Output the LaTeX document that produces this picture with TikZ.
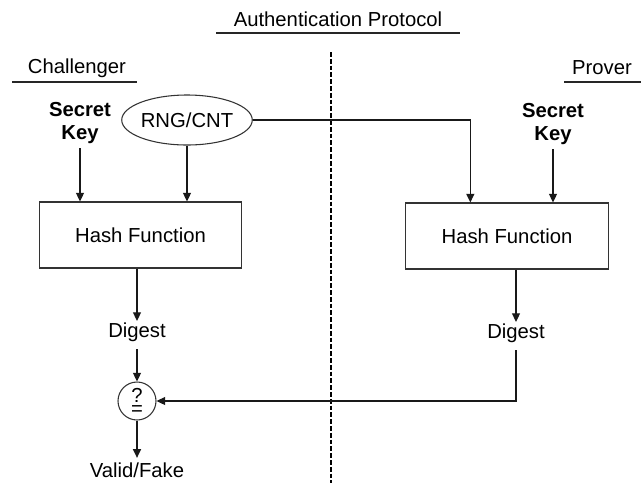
\documentclass[tikz,border=0pt]{standalone}
\usepackage{fontspec}
\setmainfont{Liberation Sans}
\usetikzlibrary{arrows.meta,shapes.geometric,calc}
\begin{document}
\begin{tikzpicture}[x=0.75pt,y=-0.75pt,
  font=\fontsize{15.2pt}{17.3pt}\selectfont,
  conn/.style={draw=black!90, line width=0.95pt},
  arr/.style={conn, -{Triangle[length=6.5pt,width=6pt]}},
  uline/.style={draw=black!85, line width=1.1pt},
  hbox/.style={draw=black!80, line width=0.8pt, minimum width=152pt, minimum height=49.5pt, inner sep=0pt},
  ell/.style={ellipse, draw=black!80, line width=0.8pt, minimum width=87pt, minimum height=37.5pt, inner sep=0pt},
  circ/.style={circle, draw=black!80, line width=0.8pt, minimum size=28.5pt, inner sep=0pt},
  keytxt/.style={font=\fontsize{15.2pt}{17.3pt}\selectfont\bfseries, align=center},
  lbl/.style={inner sep=1pt},
  sym/.style={inner sep=0pt, align=center, font=\fontsize{15.2pt}{10.2pt}\selectfont},
  dashline/.style={line width=2.2pt, dash pattern=on 3.6pt off 1.5pt}
]
\useasboundingbox (0,0) rectangle (641,483);

% headings
\node (title) at (338,19) {Authentication Protocol};
\draw[uline] (216,33) -- (460,33);
\node (chal) at (77,68) {Challenger};
\draw[uline] (12,82) -- (137,82);
\node (prov) at (602,68) {Prover};
\draw[uline] (564,82) -- (641,82);

% divider
\draw[dashline] (331,52) -- (331,483);

% challenger side
\node[keytxt] (skl) at (80,123) {Secret\\Key};
\node[ell] (rng) at (187,120) {RNG/CNT};
\node[hbox] (hl) at (140.5,235) {Hash Function};
\node[lbl] (dl) at (137,332) {Digest};
\node[circ] (cmp) at (137,401) {};
\node[sym] (qe) at ([yshift=-0.6pt]cmp.center) {?\\=};
\node (vf) at (137,470) {Valid/Fake};

% prover side
\node[keytxt] (skr) at (553,124) {Secret\\Key};
\node[hbox] (hr) at (507,236) {Hash Function};
\node[lbl] (dr) at (516,333) {Digest};

% connectors
\draw[arr] (skl.south) -- (skl.south |- hl.north);
\draw[arr] (rng.south) -- (rng.south |- hl.north);
\draw[arr] (rng.east) -| ($(hr.north west)!0.32!(hr.north east)$);
\draw[arr] (skr.south) -- (skr.south |- hr.north);
\draw[arr] (dl |- hl.south) -- (dl.north);
\draw[arr] (dr |- hr.south) -- (dr.north);
\draw[arr, shorten <=4.5pt] (dl.south) -- (cmp.north);
\draw[arr, shorten <=4.5pt] (dr.south) |- (cmp.east);
\draw[arr] (cmp.south) -- (vf.north);
\end{tikzpicture}
\end{document}
